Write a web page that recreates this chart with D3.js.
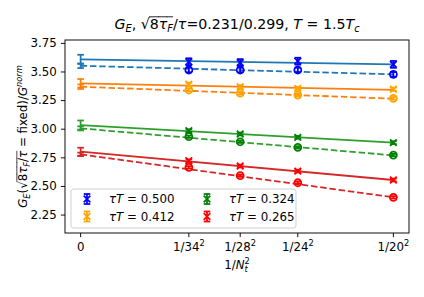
<!DOCTYPE html>
<html>
<head>
<meta charset="utf-8">
<script src="https://cdn.jsdelivr.net/npm/d3@7"></script>
<style>
  body { margin: 0; background: white; }
  text { font-family: "DejaVu Sans", sans-serif; }
</style>
</head>
<body>
<div id="wrapper"></div>
<script>
// lattice sizes (x = 1/Nt^2) and tick labels
const ntValues = [34, 28, 24, 20]
const xTickNt = [null, 34, 28, 24, 20]
const tauTLabels = ["0.500", "0.412", "0.324", "0.265"]
const lineColors = ["#1f77b4", "#ff7f0e", "#2ca02c", "#d62728"]
const markColors = ["blue", "orange", "green", "red"]

// values, one row per tauT
const crossValues = [
  [3.585, 3.578, 3.590, 3.562],
  [3.388, 3.367, 3.353, 3.345],
  [2.983, 2.954, 2.925, 2.878],
  [2.720, 2.674, 2.630, 2.552],
]
const crossErrors = [0.03, 0.014, 0.012, 0.012]
const circleValues = [
  [3.513, 3.513, 3.513, 3.475],
  [3.338, 3.310, 3.294, 3.265],
  [2.930, 2.886, 2.837, 2.770],
  [2.663, 2.590, 2.528, 2.401],
]
const circleErrors = [0.02, 0.012, 0.01, 0.01]

// fit lines: value at 1/Nt^2 = 0 and at 1/20^2
const solidFit0 = [3.606, 3.397, 3.032, 2.799]
const solidFitEnd = [3.562, 3.340, 2.878, 2.552]
const dashedFit0 = [3.550, 3.367, 3.003, 2.776]
const dashedFitEnd = [3.475, 3.262, 2.767, 2.401]
const solidFit0Err = [0.04, 0.037, 0.04, 0.035]
const dashedFit0Err = [0.02, 0.02, 0.018, 0.015]

const yTicks = [2.25, 2.50, 2.75, 3.00, 3.25, 3.50, 3.75]

const fontSmall = 11.8
const fontTitle = 14.2
const lw = 1.77

let dimensions = {
  width: 424,
  height: 297,
  margin: { top: 40, right: 15, bottom: 64, left: 65 },
}
dimensions.boundedWidth = dimensions.width - dimensions.margin.left - dimensions.margin.right
dimensions.boundedHeight = dimensions.height - dimensions.margin.top - dimensions.margin.bottom

const wrapper = d3.select("#wrapper")
  .append("svg")
  .attr("width", dimensions.width)
  .attr("height", dimensions.height)

const bounds = wrapper.append("g")
  .attr("transform", `translate(${dimensions.margin.left},${dimensions.margin.top})`)

const xMax = 1 / (20 * 20)
const xScale = d3.scaleLinear()
  .domain([-0.05 * xMax, 1.05 * xMax])
  .range([0, dimensions.boundedWidth])
const yScale = d3.scaleLinear()
  .domain([2.089, 3.775])
  .range([dimensions.boundedHeight, 0])

const invSq = n => 1 / (n * n)

// math-ish text helper: segments {t, i (italic), sub, sup, over, back}
function mathText(parent, segs, fs) {
  const text = parent.append("text")
    .attr("text-anchor", "middle")
    .style("font-size", fs + "px")
    .attr("fill", "black")
  let offset = 0
  let idx = 0
  const overRanges = []
  segs.forEach(s => {
    let target = 0
    let size = fs
    if (s.sub) { target = 0.22 * fs; size = 0.7 * fs }
    if (s.sup) { target = -0.4 * fs; size = 0.7 * fs }
    const ts = text.append("tspan")
      .text(s.t)
      .style("font-size", size + "px")
      .style("font-style", s.i ? "italic" : "normal")
      .attr("dy", target - offset)
    if (s.back) ts.attr("dx", -s.back * fs)
    offset = target
    if (s.over) overRanges.push([idx, idx + s.t.length - 1])
    idx += s.t.length
  })
  const node = text.node()
  overRanges.forEach(([a, b]) => {
    const x0 = node.getStartPositionOfChar(a).x - 0.05 * fs
    const x1 = node.getEndPositionOfChar(b).x
    parent.append("line")
      .attr("x1", x0).attr("x2", x1)
      .attr("y1", -0.86 * fs).attr("y2", -0.86 * fs)
      .attr("stroke", "black")
      .attr("stroke-width", 0.06 * fs)
  })
  return text
}

// fit lines
const lineGen = d3.line().x(d => xScale(d[0])).y(d => yScale(d[1]))
tauTLabels.forEach((lab, k) => {
  bounds.append("path")
    .attr("d", lineGen([[0, solidFit0[k]], [xMax, solidFitEnd[k]]]))
    .attr("fill", "none")
    .attr("stroke", lineColors[k])
    .attr("stroke-width", lw)
  bounds.append("path")
    .attr("d", lineGen([[0, dashedFit0[k]], [xMax, dashedFitEnd[k]]]))
    .attr("fill", "none")
    .attr("stroke", lineColors[k])
    .attr("stroke-width", lw)
    .attr("stroke-dasharray", "6.5,2.8")
})

function errorBar(g, x, y, err, color) {
  const px = xScale(x)
  const y0 = yScale(y - err), y1 = yScale(y + err)
  g.append("line").attr("x1", px).attr("x2", px).attr("y1", y0).attr("y2", y1)
    .attr("stroke", color).attr("stroke-width", lw)
  ;[y0, y1].forEach(yy => {
    g.append("line").attr("x1", px - 3.3).attr("x2", px + 3.3).attr("y1", yy).attr("y2", yy)
      .attr("stroke", color).attr("stroke-width", lw)
  })
}

function crossMark(g, px, py, color) {
  const r = 3.3
  g.append("path")
    .attr("d", `M${px - r},${py - r}L${px + r},${py + r}M${px - r},${py + r}L${px + r},${py - r}`)
    .attr("stroke", color).attr("stroke-width", lw).attr("fill", "none")
}

// extrapolated values at 1/Nt^2 = 0
tauTLabels.forEach((lab, k) => {
  errorBar(bounds, 0, solidFit0[k], solidFit0Err[k], lineColors[k])
  errorBar(bounds, 0, dashedFit0[k], dashedFit0Err[k], lineColors[k])
})

// data points
tauTLabels.forEach((lab, k) => {
  ntValues.forEach((nt, j) => {
    const x = invSq(nt)
    errorBar(bounds, x, circleValues[k][j], circleErrors[k], markColors[k])
    bounds.append("circle")
      .attr("cx", xScale(x)).attr("cy", yScale(circleValues[k][j]))
      .attr("r", 3.5)
      .attr("fill", "none").attr("stroke", markColors[k]).attr("stroke-width", lw)
    errorBar(bounds, x, crossValues[k][j], crossErrors[k], markColors[k])
    crossMark(bounds, xScale(x), yScale(crossValues[k][j]), markColors[k])
  })
})

// frame
bounds.append("rect")
  .attr("width", dimensions.boundedWidth)
  .attr("height", dimensions.boundedHeight)
  .attr("fill", "none")
  .attr("stroke", "black")
  .attr("stroke-width", 0.94)

// y axis
const yAxis = bounds.append("g")
  .call(d3.axisLeft(yScale).tickValues(yTicks).tickFormat(d3.format(".2f")).tickSize(4.1).tickPadding(4.1))
yAxis.select(".domain").remove()
yAxis.selectAll("text").style("font-size", fontSmall + "px").attr("font-family", null)
yAxis.selectAll("line").attr("stroke-width", 0.94)

// x axis
const xAxis = bounds.append("g")
  .attr("transform", `translate(0,${dimensions.boundedHeight})`)
xAxis.selectAll("g.tick")
  .data(xTickNt)
  .enter().append("g")
  .attr("class", "tick")
  .attr("transform", d => `translate(${xScale(d ? invSq(d) : 0)},0)`)
  .each(function (d) {
    const g = d3.select(this)
    g.append("line").attr("y2", 4.1).attr("stroke", "black").attr("stroke-width", 0.94)
    const lg = g.append("g").attr("transform", "translate(0,18)")
    if (d) mathText(lg, [{ t: "1/" + d }, { t: "2", sup: true }], fontSmall)
    else mathText(lg, [{ t: "0" }], fontSmall)
  })

// x label
const xLabelG = wrapper.append("g")
  .attr("transform", `translate(${dimensions.margin.left + dimensions.boundedWidth / 2},269)`)
mathText(xLabelG, [{ t: "1/" }, { t: "N", i: true }, { t: "t", i: true, sub: true }, { t: "2", sup: true, back: 0.27 }], fontSmall)

// y label
const yLabelG = wrapper.append("g")
  .attr("transform", `translate(27,${dimensions.margin.top + dimensions.boundedHeight / 2}) rotate(-90)`)
mathText(yLabelG, [
  { t: "G", i: true }, { t: "E", i: true, sub: true }, { t: "(" }, { t: "√" },
  { t: "8", over: true }, { t: "τ", i: true, over: true }, { t: "F", i: true, sub: true, over: true },
  { t: "/", over: true }, { t: "τ", i: true, over: true },
  { t: " = fixed)/" }, { t: "G", i: true }, { t: "norm", i: true, sup: true },
], fontSmall)

// title
const titleG = wrapper.append("g")
  .attr("transform", `translate(${dimensions.margin.left + dimensions.boundedWidth / 2},29)`)
mathText(titleG, [
  { t: "G", i: true }, { t: "E", i: true, sub: true }, { t: ", " }, { t: "√" },
  { t: "8", over: true }, { t: "τ", i: true, over: true }, { t: "F", i: true, sub: true, over: true },
  { t: "/" }, { t: "τ", i: true }, { t: "=0.231/0.299, " },
  { t: "T", i: true }, { t: " = 1.5" }, { t: "T", i: true }, { t: "c", i: true, sub: true },
], fontTitle)

// legend
const legend = bounds.append("g")
  .attr("transform", `translate(${71 - dimensions.margin.left},${189 - dimensions.margin.top})`)
legend.append("rect")
  .attr("width", 225).attr("height", 39).attr("rx", 2.5)
  .attr("fill", "white").attr("fill-opacity", 0.8)
  .attr("stroke", "#cccccc").attr("stroke-width", 0.94)
tauTLabels.forEach((lab, k) => {
  const col = Math.floor(k / 2), row = k % 2
  const mx = 16 + col * 120, my = 10 + row * 17.5
  const g = legend.append("g")
  g.append("line").attr("x1", mx).attr("x2", mx).attr("y1", my - 5).attr("y2", my + 5)
    .attr("stroke", markColors[k]).attr("stroke-width", lw)
  ;[my - 5, my + 5].forEach(yy => {
    g.append("line").attr("x1", mx - 3.3).attr("x2", mx + 3.3).attr("y1", yy).attr("y2", yy)
      .attr("stroke", markColors[k]).attr("stroke-width", lw)
  })
  crossMark(g, mx, my, markColors[k])
  const tg = g.append("g").attr("transform", `translate(${mx + 22},${my + 4.3})`)
  mathText(tg, [{ t: "τ", i: true }, { t: "T", i: true }, { t: " = " + lab }], fontSmall)
    .attr("text-anchor", "start")
})
</script>
</body>
</html>
